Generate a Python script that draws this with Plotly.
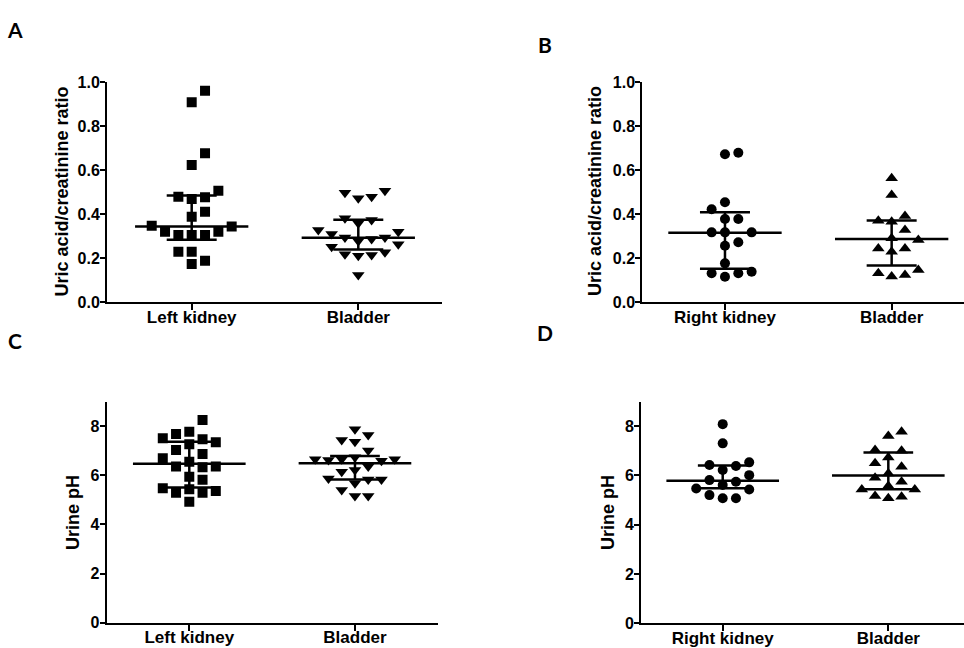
import plotly.graph_objects as go

# ---------------- data ----------------
cats_left_A = ["Left kidney", "Bladder"]
cats_right_B = ["Right kidney", "Bladder"]

A_left_kidney = [0.962, 0.909, 0.677, 0.624, 0.507, 0.480, 0.470, 0.477, 0.412, 0.389,
                 0.348, 0.344, 0.321, 0.321, 0.306, 0.306, 0.306, 0.230, 0.230, 0.189, 0.174]
A_bladder = [0.507, 0.498, 0.480, 0.473, 0.382, 0.374, 0.359, 0.329, 0.321, 0.310, 0.294,
             0.294, 0.288, 0.279, 0.264, 0.253, 0.227, 0.218, 0.215, 0.212, 0.124]

B_right_kidney = [0.680, 0.673, 0.455, 0.423, 0.379, 0.379, 0.318, 0.318, 0.318, 0.273,
                  0.257, 0.177, 0.139, 0.132, 0.132, 0.116]
B_bladder = [0.564, 0.488, 0.392, 0.371, 0.366, 0.329, 0.291, 0.283, 0.245, 0.245, 0.230,
             0.147, 0.132, 0.124, 0.117]

C_left_kidney = [8.25, 7.77, 7.68, 7.50, 7.46, 7.34, 7.26, 7.03, 6.86, 6.69, 6.55, 6.35,
                 6.35, 6.32, 5.94, 5.81, 5.47, 5.43, 5.36, 5.29, 5.29, 4.92]
C_bladder = [7.87, 7.64, 7.43, 7.36, 7.00, 6.73, 6.65, 6.65, 6.65, 6.62, 6.59, 6.35, 6.21,
             6.14, 5.87, 5.83, 5.83, 5.67, 5.40, 5.15, 5.15]

D_right_kidney = [8.08, 7.30, 6.53, 6.42, 6.38, 6.22, 6.01, 5.81, 5.74, 5.61, 5.47, 5.43,
                  5.20, 5.07, 5.07]
D_bladder = [7.77, 7.60, 7.03, 7.00, 6.73, 6.49, 6.35, 6.08, 5.90, 5.74, 5.57, 5.43, 5.43,
             5.16, 5.13, 5.07]

# median, Q1, Q3 per group
A_summary = [[0.345, 0.284, 0.486], [0.293, 0.240, 0.375]]
B_summary = [[0.316, 0.152, 0.409], [0.288, 0.167, 0.372]]
C_summary = [[6.47, 5.50, 7.36], [6.49, 5.83, 6.78]]
D_summary = [[5.78, 5.48, 6.40], [6.00, 5.44, 6.93]]

uacr_ticks = [0.0, 0.2, 0.4, 0.6, 0.8, 1.0]
ph_ticks = [0, 2, 4, 6, 8]

W, H = 964, 648
FONT = "Liberation Sans, Arial, sans-serif"


def swarm(values, center, px_per_unit, slot, thresh=12.0):
    order = sorted(range(len(values)), key=lambda i: values[i])
    placed = []
    xs = [None] * len(values)
    cands = [0]
    for j in range(1, 10):
        cands += [j, -j]
    for i in order:
        y = values[i] * px_per_unit
        chosen = cands[-1]
        for s in cands:
            if all(not (ps == s and abs(py - y) < thresh) for py, ps in placed):
                chosen = s
                break
        placed.append((y, chosen))
        xs[i] = center + chosen * slot
    return xs


def summary_lines(stats, center, med_hw=0.34, cap_hw=0.15):
    med, q1, q3 = stats
    xs = [center - med_hw, center + med_hw, None,
          center, center, None,
          center - cap_hw, center + cap_hw, None,
          center - cap_hw, center + cap_hw]
    ys = [med, med, None, q1, q3, None, q1, q1, None, q3, q3]
    return xs, ys


fig = go.Figure()

panels = [
    ("A", [A_left_kidney, A_bladder], ["square", "triangle-down"], A_summary, "", 220.0,
     [107 / W, 441.7 / W], [1 - 302.3 / H, 1 - 82.3 / H], [0.4916, 2.5006], [0, 1.0],
     uacr_ticks, cats_left_A),
    ("B", [B_right_kidney, B_bladder], ["circle", "triangle-up"], B_summary, "2", 220.0,
     [642.3 / W, 1.0], [1 - 302.3 / H, 1 - 82.3 / H], [0.504, 2.434], [0, 1.0],
     uacr_ticks, cats_right_B),
    ("C", [C_left_kidney, C_bladder], ["square", "triangle-down"], C_summary, "3", 24.58,
     [106.7 / W, 438.3 / W], [1 - 622.7 / H, 1 - 401.7 / H], [0.5015, 2.503], [0, 8.99],
     ph_ticks, cats_left_A),
    ("D", [D_right_kidney, D_bladder], ["circle", "triangle-up"], D_summary, "4", 24.66,
     [641 / W, 1.0], [1 - 623.3 / H, 1 - 401.7 / H], [0.5066, 2.457], [0, 8.99],
     ph_ticks, cats_right_B),
]

layout_axes = {}
for name, groups, symbols, summ, aid, ppu, xd, yd, xr, yr, ticks, cats in panels:
    xa = "x" + aid
    ya = "y" + aid
    for gi, (vals, sym) in enumerate(zip(groups, symbols)):
        center = gi + 1
        xs = swarm(vals, center, ppu, 0.08)
        size = 10 if sym in ("square", "circle") else 11
        fig.add_trace(go.Scatter(
            x=xs, y=vals, mode="markers", xaxis=xa, yaxis=ya,
            marker=dict(symbol=sym, size=size, color="black", line=dict(width=0)),
            showlegend=False, hoverinfo="y"))
        lx, ly = summary_lines(summ[gi], center)
        fig.add_trace(go.Scatter(
            x=lx, y=ly, mode="lines", xaxis=xa, yaxis=ya,
            line=dict(color="black", width=2.5), showlegend=False, hoverinfo="skip"))
    is_uacr = ticks is uacr_ticks
    layout_axes["xaxis" + aid] = dict(
        domain=xd, range=xr, anchor=ya, tickmode="array", tickvals=[1, 2], ticktext=cats,
        showline=True, linecolor="black", linewidth=2, ticks="outside", ticklen=6,
        tickwidth=2, tickcolor="black", showgrid=False, zeroline=False, fixedrange=True,
        automargin=False, ticklabelstandoff=-8,
        tickfont=dict(family=FONT, size=17, color="black", weight="bold"))
    layout_axes["yaxis" + aid] = dict(
        domain=yd, range=yr, anchor=xa, tickmode="array", tickvals=ticks,
        ticktext=[("%.1f" % t) if is_uacr else str(t) for t in ticks],
        showline=True, linecolor="black", linewidth=2, ticks="outside", ticklen=5,
        tickwidth=2, tickcolor="black", showgrid=False, zeroline=False, fixedrange=True,
        automargin=False, ticklabelstandoff=-3,
        tickfont=dict(family=FONT, size=16, color="black", weight="bold"))

annotations = []
# y-axis titles
for txt, x, y in [("Uric acid/creatinine ratio", 61.5, 191),
                  ("Uric acid/creatinine ratio", 595, 191),
                  ("Urine pH", 72.5, 512.5),
                  ("Urine pH", 607.5, 512.5)]:
    annotations.append(dict(text=txt, x=x / W, y=1 - y / H, xref="paper", yref="paper",
                            showarrow=False, textangle=-90, xanchor="center", yanchor="middle",
                            font=dict(family=FONT, size=18, color="black", weight="bold")))
# panel letters
for txt, x, y in [("A", 15, 30), ("B", 545, 45), ("C", 15, 340), ("D", 545, 333)]:
    annotations.append(dict(text=txt, x=x / W, y=1 - y / H, xref="paper", yref="paper",
                            showarrow=False, xanchor="center", yanchor="middle",
                            font=dict(family="Lato, Open Sans, sans-serif", size=21,
                                      color="black", weight="bold")))

fig.update_layout(
    template="none",
    width=W, height=H, margin=dict(l=0, r=0, t=0, b=0, autoexpand=False),
    paper_bgcolor="white", plot_bgcolor="white",
    annotations=annotations, **layout_axes)

fig.write_html("out.html", config={"displayModeBar": False},
               post_script="document.body.style.margin='0';document.body.style.overflow='hidden';")
